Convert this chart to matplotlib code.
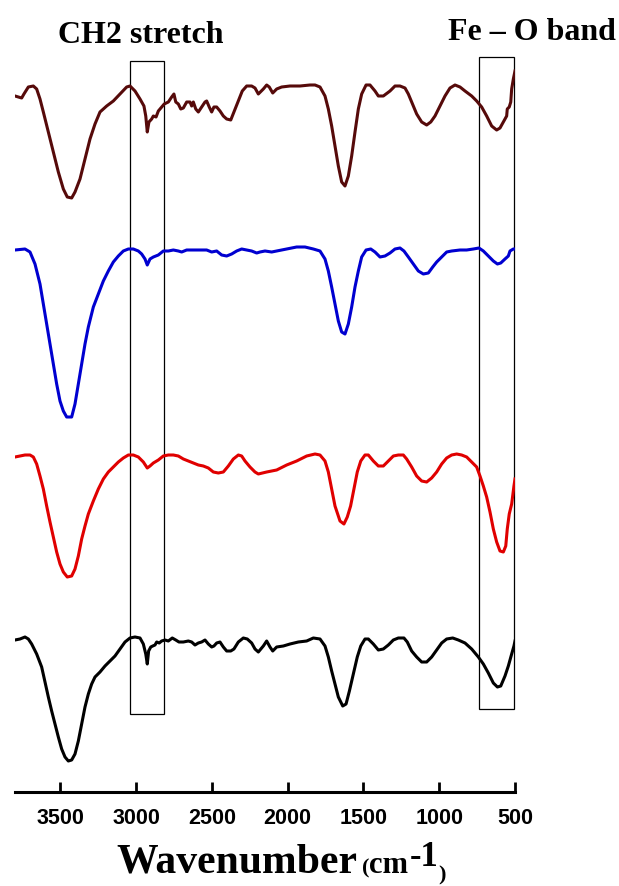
import matplotlib
matplotlib.use("Agg")
import matplotlib.pyplot as plt
from matplotlib.patches import Rectangle

# ---------------- data (wavenumber in cm-1, stacked transmittance a.u.) ----------------
brown_wn = [3800, 3756, 3741, 3712, 3679, 3657, 3635, 3613, 3580, 3547,
            3514, 3481, 3455, 3426, 3404, 3371, 3338, 3305, 3272, 3239,
            3195, 3151, 3107, 3063, 3041, 3008, 2975, 2949, 2937, 2927,
            2916, 2898, 2887, 2869, 2854, 2832, 2815, 2788, 2766, 2751,
            2739, 2722, 2706, 2689, 2667, 2645, 2634, 2623, 2607, 2590,
            2568, 2546, 2535, 2518, 2502, 2487, 2469, 2447, 2425, 2403,
            2376, 2355, 2326, 2300, 2271, 2238, 2216, 2194, 2161, 2139,
            2122, 2099, 2073, 2040, 1985, 1919, 1853, 1820, 1787, 1754,
            1732, 1710, 1688, 1666, 1644, 1622, 1600, 1578, 1556, 1534,
            1512, 1483, 1457, 1424, 1402, 1369, 1325, 1292, 1259, 1226,
            1204, 1182, 1149, 1116, 1083, 1056, 1028, 995, 962, 929,
            896, 863, 830, 786, 753, 720, 687, 654, 621, 599,
            577, 555, 551, 538, 528, 522, 511, 500]
brown_t = [69.6, 69.4, 69.8, 70.5, 70.6, 70.3, 69.3, 68.0, 66.0, 64.0,
           62.0, 60.3, 59.5, 59.4, 60.0, 61.3, 63.3, 65.3, 66.8, 68.0,
           68.6, 69.1, 69.8, 70.5, 70.6, 70.1, 69.3, 68.6, 67.6, 66.0,
           67.0, 67.3, 67.6, 67.5, 68.1, 68.5, 68.8, 69.0, 69.5, 69.8,
           69.0, 68.8, 68.3, 68.4, 69.0, 69.0, 68.6, 69.0, 68.3, 68.0,
           68.5, 69.0, 69.1, 68.5, 68.0, 68.5, 68.5, 68.1, 67.6, 67.3,
           67.2, 68.0, 69.1, 70.1, 70.6, 70.6, 70.4, 69.8, 70.3, 70.7,
           70.5, 69.9, 70.3, 70.5, 70.6, 70.6, 70.7, 70.7, 70.5, 69.6,
           68.3, 66.6, 64.6, 62.6, 61.0, 60.6, 61.6, 63.6, 66.0, 68.3,
           69.8, 70.7, 70.7, 70.1, 69.6, 69.6, 70.1, 70.6, 70.6, 70.4,
           69.8, 69.0, 67.8, 67.0, 66.7, 67.0, 67.6, 68.6, 69.6, 70.4,
           70.7, 70.5, 70.1, 69.6, 69.1, 68.5, 67.6, 66.6, 66.2, 66.4,
           67.0, 67.6, 68.3, 68.5, 69.0, 70.3, 71.3, 72.1]

blue_wn = [3800, 3734, 3701, 3668, 3635, 3613, 3591, 3569, 3547, 3525,
           3503, 3481, 3459, 3426, 3404, 3382, 3360, 3338, 3316, 3283,
           3250, 3217, 3184, 3151, 3118, 3085, 3052, 3019, 2986, 2964,
           2942, 2927, 2909, 2887, 2854, 2821, 2788, 2755, 2722, 2700,
           2667, 2634, 2601, 2568, 2535, 2502, 2469, 2436, 2403, 2370,
           2337, 2304, 2271, 2238, 2205, 2183, 2150, 2106, 2073, 2007,
           1941, 1886, 1831, 1787, 1754, 1732, 1710, 1688, 1666, 1644,
           1622, 1600, 1578, 1556, 1534, 1512, 1483, 1452, 1424, 1391,
           1358, 1325, 1292, 1259, 1233, 1204, 1171, 1138, 1105, 1072,
           1043, 1017, 984, 951, 918, 863, 819, 775, 738, 709,
           676, 643, 616, 594, 566, 544, 533, 511, 500]
blue_t = [54.2, 54.3, 54.0, 52.8, 50.8, 48.8, 46.8, 44.8, 42.8, 40.8,
          39.1, 38.1, 37.5, 37.5, 38.8, 40.8, 42.8, 44.8, 46.5, 48.5,
          49.8, 51.1, 52.1, 53.0, 53.6, 54.1, 54.3, 54.3, 54.1, 53.8,
          53.3, 52.7, 53.3, 53.5, 53.7, 54.1, 54.1, 54.2, 54.1, 54.0,
          54.2, 54.2, 54.2, 54.2, 54.2, 54.0, 54.1, 53.7, 53.6, 53.8,
          54.1, 54.3, 54.2, 54.1, 53.9, 54.0, 54.1, 54.0, 54.1, 54.3,
          54.5, 54.5, 54.3, 54.1, 53.3, 52.1, 50.5, 48.8, 47.1, 46.0,
          45.8, 46.8, 48.5, 50.5, 52.1, 53.5, 54.2, 54.3, 54.0, 53.5,
          53.6, 53.9, 54.3, 54.4, 54.1, 53.5, 52.8, 52.1, 51.8, 51.9,
          52.5, 53.0, 53.5, 54.0, 54.1, 54.2, 54.2, 54.3, 54.4, 54.1,
          53.6, 53.1, 52.8, 52.9, 53.3, 53.6, 54.1, 54.3, 54.3]

red_wn = [3800, 3767, 3734, 3701, 3679, 3657, 3635, 3613, 3591, 3569,
          3547, 3525, 3503, 3481, 3455, 3426, 3404, 3382, 3360, 3338,
          3316, 3283, 3250, 3217, 3184, 3151, 3118, 3085, 3052, 3019,
          2986, 2953, 2927, 2909, 2887, 2854, 2821, 2788, 2755, 2722,
          2689, 2656, 2623, 2590, 2557, 2524, 2491, 2458, 2425, 2392,
          2359, 2326, 2304, 2282, 2249, 2216, 2194, 2139, 2073, 2007,
          1941, 1875, 1820, 1787, 1754, 1732, 1710, 1688, 1655, 1629,
          1607, 1585, 1563, 1541, 1518, 1490, 1468, 1435, 1402, 1369,
          1336, 1303, 1270, 1237, 1215, 1182, 1149, 1116, 1083, 1050,
          1017, 984, 951, 918, 885, 852, 819, 786, 753, 731,
          709, 687, 665, 643, 621, 599, 577, 561, 551, 538, 522, 507, 500]
red_t = [33.5, 33.6, 33.7, 33.7, 33.5, 32.8, 31.6, 30.3, 28.6, 27.0,
         25.5, 24.0, 22.8, 22.0, 21.5, 21.6, 22.3, 23.6, 25.3, 26.6,
         27.8, 29.1, 30.3, 31.3, 32.0, 32.5, 33.0, 33.4, 33.7, 33.7,
         33.5, 33.0, 32.4, 32.6, 32.9, 33.2, 33.6, 33.7, 33.7, 33.6,
         33.3, 33.1, 32.9, 32.7, 32.6, 32.4, 32.0, 31.9, 32.0, 32.6,
         33.3, 33.7, 33.6, 33.1, 32.5, 32.0, 31.8, 32.0, 32.2, 32.7,
         33.1, 33.6, 33.8, 33.7, 33.1, 32.0, 30.3, 28.6, 27.1, 26.8,
         27.5, 28.6, 30.3, 32.0, 33.1, 33.7, 33.7, 33.1, 32.6, 32.6,
         33.1, 33.6, 33.7, 33.7, 33.3, 32.5, 31.6, 31.1, 31.0, 31.4,
         32.0, 32.8, 33.4, 33.7, 33.8, 33.7, 33.5, 33.0, 32.5, 31.6,
         30.6, 29.5, 28.0, 26.3, 25.0, 24.1, 24.0, 24.6, 26.3, 27.8, 28.8, 30.6, 31.3]

black_wn = [3800, 3767, 3734, 3712, 3690, 3657, 3624, 3602, 3580, 3558,
            3536, 3514, 3492, 3470, 3448, 3426, 3404, 3382, 3360, 3338,
            3316, 3294, 3272, 3239, 3206, 3173, 3140, 3107, 3074, 3041,
            3008, 2975, 2953, 2937, 2927, 2918, 2904, 2891, 2876, 2865,
            2848, 2832, 2810, 2788, 2762, 2739, 2718, 2689, 2656, 2634,
            2612, 2590, 2568, 2546, 2524, 2502, 2487, 2469, 2447, 2425,
            2403, 2376, 2355, 2326, 2293, 2267, 2238, 2216, 2194, 2161,
            2139, 2117, 2099, 2073, 2029, 1985, 1930, 1875, 1831, 1787,
            1754, 1732, 1710, 1688, 1666, 1637, 1615, 1593, 1567, 1541,
            1518, 1490, 1468, 1435, 1402, 1369, 1336, 1303, 1270, 1233,
            1211, 1182, 1149, 1116, 1083, 1050, 1017, 984, 951, 911,
            874, 830, 786, 742, 709, 676, 643, 616, 594, 566,
            544, 522, 507, 500]
black_t = [15.2, 15.3, 15.5, 15.3, 14.8, 13.8, 12.5, 11.0, 9.5, 8.1,
           6.8, 5.5, 4.3, 3.5, 3.1, 3.2, 3.8, 5.1, 6.8, 8.5,
           9.8, 10.8, 11.5, 12.0, 12.6, 13.1, 13.6, 14.3, 15.0, 15.4,
           15.5, 15.4, 14.8, 13.8, 12.8, 14.1, 14.5, 14.6, 14.7, 15.0,
           14.9, 15.1, 15.2, 15.1, 15.4, 15.2, 15.0, 15.0, 15.1, 15.0,
           14.7, 14.9, 15.0, 15.2, 14.8, 14.5, 14.6, 14.9, 15.0, 14.5,
           14.1, 14.1, 14.3, 15.0, 15.4, 15.3, 14.9, 14.3, 14.0, 14.6,
           15.1, 14.5, 14.1, 14.5, 14.6, 14.8, 15.0, 15.1, 15.4, 15.3,
           14.6, 13.5, 12.1, 10.8, 9.5, 8.6, 8.8, 10.1, 11.8, 13.5,
           14.6, 15.3, 15.3, 14.8, 14.2, 14.3, 14.7, 15.2, 15.4, 15.4,
           15.0, 14.1, 13.5, 13.0, 13.0, 13.5, 14.2, 14.9, 15.3, 15.4,
           15.2, 14.9, 14.3, 13.5, 12.8, 11.9, 10.9, 10.5, 10.6, 11.6,
           12.6, 13.8, 14.6, 15.1]

tick_values = [3500, 3000, 2500, 2000, 1500, 1000, 500]
tick_labels = ["3500", "3000", "2500", "2000", "1500", "1000", "500"]

# highlighted regions: (wn_high, wn_low, t_bottom, t_top)
ch2_box = (3040, 2815, 7.8, 73.1)
feo_box = (740, 505, 8.3, 73.5)

# ---------------- figure ----------------
W, H = 619, 887
fig = plt.figure(figsize=(W / 100, H / 100), dpi=100)
fig.patch.set_facecolor("white")
ax = fig.add_axes([15 / W, 1 - 793 / H, 500 / W, (793 - 50) / H])

lw = 2.2
ax.plot(brown_wn, brown_t, color="#560a0a", lw=lw, solid_joinstyle="round")
ax.plot(blue_wn, blue_t, color="#0000d0", lw=lw, solid_joinstyle="round")
ax.plot(red_wn, red_t, color="#e00000", lw=lw, solid_joinstyle="round")
ax.plot(black_wn, black_t, color="black", lw=lw, solid_joinstyle="round")

for (x1, x2, y1, y2) in (ch2_box, feo_box):
    ax.add_patch(Rectangle((x2, y1), x1 - x2, y2 - y1, fill=False,
                           edgecolor="black", lw=0.9, clip_on=False))

ax.set_xlim(3800, 500)
ax.set_ylim(0, 74.3)
for s in ("left", "right", "top"):
    ax.spines[s].set_visible(False)
ax.spines["bottom"].set_linewidth(2.2)
ax.set_yticks([])
ax.set_xticks(tick_values)
ax.set_xticklabels(tick_labels, fontfamily="Liberation Sans", fontweight="bold",
                   fontsize=15.5)
ax.tick_params(axis="x", direction="in", length=7, width=2, pad=11)

serif = "Liberation Serif"
# title-like annotations
fig.text(140.7 / W, 1 - 43 / H, "CH2 stretch", fontfamily=serif, fontweight="bold",
         fontsize=23, ha="center", va="baseline")
fig.text(531.6 / W, 1 - 40 / H, "Fe \u2013 O band", fontfamily=serif, fontweight="bold",
         fontsize=23, ha="center", va="baseline")

# x-axis label with mixed sizes, laid out piece by piece
renderer = fig.canvas.get_renderer()
pieces = [("Wavenumber", 30, 873, 0), ("(", 16, 873, 5), ("cm", 22, 873, 0),
          ("-1", 25, 866, 1), (")", 16, 880, 0)]
x = 116.0
for txt, size, base, gap in pieces:
    x += gap
    t = fig.text(x / W, 1 - base / H, txt, fontfamily=serif, fontweight="bold",
                 fontsize=size, ha="left", va="baseline")
    bb = t.get_window_extent(renderer=renderer)
    x += bb.width

fig.savefig("out.png", dpi=100, facecolor="white")
